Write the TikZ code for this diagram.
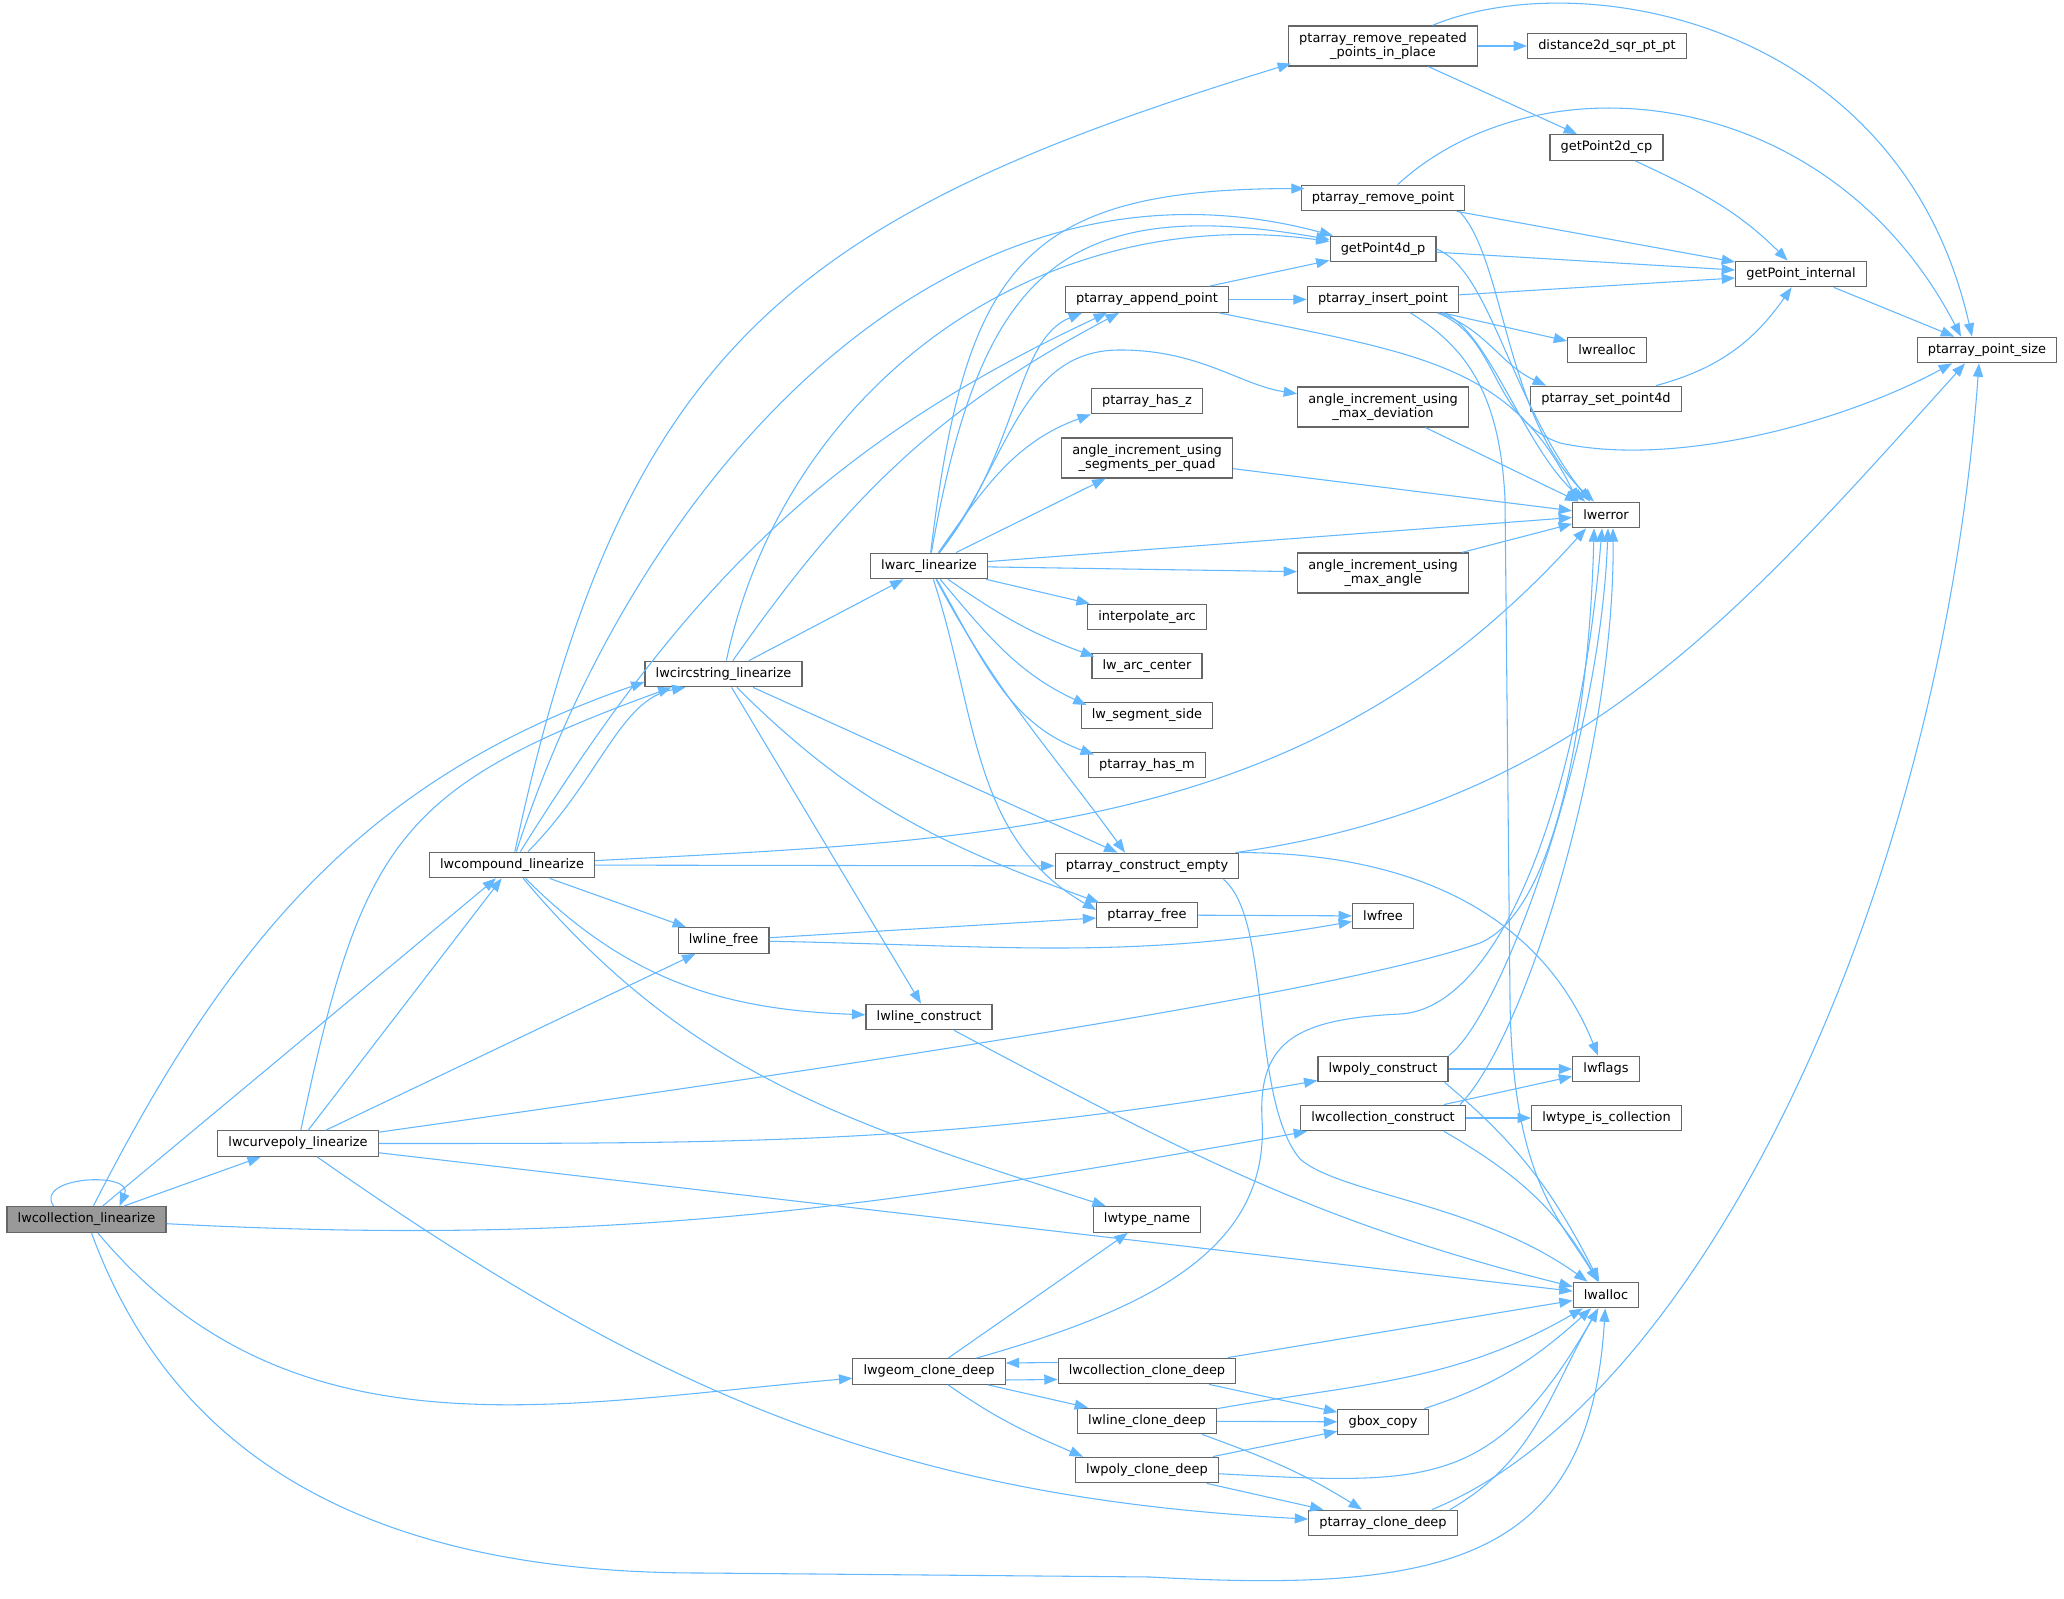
\documentclass[tikz,border=0pt]{standalone}
\usepackage{fontspec}
\setmainfont{DejaVu Sans}
\usetikzlibrary{arrows.meta}
\definecolor{edgeblue}{HTML}{63B8FF}
\definecolor{boxgrey}{HTML}{666666}
\definecolor{rootgrey}{HTML}{999999}
\newcommand{\graphfont}{\fontsize{9.7}{10.75}\selectfont}
\begin{document}
\begin{tikzpicture}[x=0.75pt, y=0.75pt,
    fn/.style={draw=boxgrey, fill=white, line width=0.9pt, inner xsep=8pt, inner ysep=0pt, minimum height=19.2pt, font=\graphfont},
    fn2/.style={fn, align=center, minimum height=30pt},
    root/.style={fn, fill=rootgrey},
    call/.style={draw=edgeblue, line width=0.8pt, -{Triangle[length=10pt,width=7.5pt]}}]
    \useasboundingbox (0,0) rectangle (2064,1599);
    \fill[white] (0,0) rectangle (2064,1599);
    % functions, one column per call depth
    \node[root] (collin) at (86.5,379.5) {lwcollection\_linearize};
    \node[fn] (curvepoly) at (298,455.5) {lwcurvepoly\_linearize};
    \node[fn] (compound) at (512,734) {lwcompound\_linearize};
    \node[fn] (circstring) at (723.5,925) {lwcircstring\_linearize};
    \node[fn] (linefree) at (723.5,658.5) {lwline\_free};
    \node[fn] (lwarc) at (929,1033) {lwarc\_linearize};
    \node[fn] (lineconstruct) at (929,582) {lwline\_construct};
    \node[fn] (geomclone) at (929,227.5) {lwgeom\_clone\_deep};
    \node[fn] (appendpt) at (1147,1299.5) {ptarray\_append\_point};
    \node[fn] (hasz) at (1147,1198) {ptarray\_has\_z};
    \node[fn2] (segquad) at (1147,1141) {angle\_increment\_using\\\_segments\_per\_quad};
    \node[fn] (interp) at (1147,982) {interpolate\_arc};
    \node[fn] (arccenter) at (1147,933) {lw\_arc\_center};
    \node[fn] (segside) at (1147,883.5) {lw\_segment\_side};
    \node[fn] (hasm) at (1147,834) {ptarray\_has\_m};
    \node[fn] (ptconsempty) at (1147,733) {ptarray\_construct\_empty};
    \node[fn] (ptfree) at (1147,684) {ptarray\_free};
    \node[fn] (typename) at (1147,379.5) {lwtype\_name};
    \node[fn] (collclone) at (1147,228) {lwcollection\_clone\_deep};
    \node[fn] (lineclone) at (1147,178) {lwline\_clone\_deep};
    \node[fn] (polyclone) at (1147,129) {lwpoly\_clone\_deep};
    \node[fn2] (ptremoverep) at (1383,1553) {ptarray\_remove\_repeated\\\_points\_in\_place};
    \node[fn] (ptremovept) at (1383,1401) {ptarray\_remove\_point};
    \node[fn] (getpt4d) at (1383,1350) {getPoint4d\_p};
    \node[fn] (ptinsert) at (1383,1299.5) {ptarray\_insert\_point};
    \node[fn2] (maxdev) at (1383,1192) {angle\_increment\_using\\\_max\_deviation};
    \node[fn2] (maxangle) at (1383,1026) {angle\_increment\_using\\\_max\_angle};
    \node[fn] (lwfree) at (1383,683) {lwfree};
    \node[fn] (polyconstruct) at (1383,530) {lwpoly\_construct};
    \node[fn] (collconstruct) at (1383,481) {lwcollection\_construct};
    \node[fn] (gboxcopy) at (1383,177) {gbox\_copy};
    \node[fn] (ptarrayclone) at (1383,76) {ptarray\_clone\_deep};
    \node[fn] (distance) at (1607,1553) {distance2d\_sqr\_pt\_pt};
    \node[fn] (getpt2d) at (1606.5,1451.5) {getPoint2d\_cp};
    \node[fn] (lwrealloc) at (1607,1249) {lwrealloc};
    \node[fn] (setpt4d) at (1606,1200) {ptarray\_set\_point4d};
    \node[fn] (lwerror) at (1606,1084) {lwerror};
    \node[fn] (lwflags) at (1606,530) {lwflags};
    \node[fn] (typecoll) at (1606.5,481) {lwtype\_is\_collection};
    \node[fn] (lwalloc) at (1606,304) {lwalloc};
    \node[fn] (getptint) at (1801,1325) {getPoint\_internal};
    \node[fn] (ptptsize) at (1987,1249) {ptarray\_point\_size};
    % lwcollection_linearize
    \draw[call] ([shift={(-33,0)}]collin.north) .. controls +(-20,30) and +(15,35) .. ([shift={(33,0)}]collin.north);
    \draw[call] (collin) -- (curvepoly);
    \draw[call] (collin) -- (compound);
    \draw[call] (collin) to[out=63,in=199] ([shift={(0,-8)}]circstring.west);
    \draw[call] (collin) to[out=-3,in=190] (collconstruct);
    \draw[call] (collin) to[out=-50,in=185] (geomclone);
    \draw[call] (collin) .. controls (160,180) and (320,26) .. (700,26) -- (1150,22) .. controls (1450,5) and (1590,40) .. (lwalloc);
    % lwcurvepoly_linearize
    \draw[call] (curvepoly) to[out=78,in=200,looseness=1.3] ([shift={(-52,0)}]circstring.south);
    \draw[call] (curvepoly) -- (compound);
    \draw[call] (curvepoly) -- (linefree);
    \draw[call] (curvepoly) .. controls (900,540) and (1350,610) .. (1480,656) .. controls (1560,690) and (1590,900) .. ([shift={(-12,0)}]lwerror.south);
    \draw[call] (curvepoly) to[out=0,in=190] (polyconstruct);
    \draw[call] (curvepoly) -- (lwalloc);
    \draw[call] (curvepoly) to[out=-35,in=177] (ptarrayclone);
    % lwcompound_linearize
    \draw[call] ([shift={(16,0)}]compound.north) .. controls (600,820) and (620,900) .. ([shift={(-38,0)}]circstring.south);
    \draw[call] (compound) to[out=78,in=197,looseness=1.2] ([shift={(3,3)}]ptremoverep.south west);
    \draw[call] (compound) to[out=72,in=165] (getpt4d);
    \draw[call] (compound) to[out=58,in=205] ([shift={(-40,0)}]appendpt.south);
    \draw[call] (compound) to[out=3,in=228] ([shift={(-20,0)}]lwerror.south);
    \draw[call] (compound) -- (ptconsempty);
    \draw[call] (compound) -- (linefree);
    \draw[call] (compound) to[out=-45,in=178] (lineconstruct);
    \draw[call] (compound) to[out=-50,in=162] (typename);
    % lwcircstring_linearize
    \draw[call] (circstring) to[out=78,in=172] (getpt4d);
    \draw[call] (circstring) to[out=55,in=208] ([shift={(-28,0)}]appendpt.south);
    \draw[call] (circstring) -- (lwarc);
    \draw[call] (circstring) -- (ptconsempty);
    \draw[call] (circstring) to[out=-45,in=160] ([shift={(3,-1)}]ptfree.north west);
    \draw[call] (circstring) -- (lineconstruct);
    % lwarc_linearize
    \draw[call] (lwarc) to[out=83,in=180,looseness=1.4] ([shift={(4,-4)}]ptremovept.north west);
    \draw[call] (lwarc) to[out=80,in=170,looseness=1.4] (getpt4d);
    \draw[call] (lwarc) .. controls (1020,1149) and (1015,1259) .. ([shift={(-65,0)}]appendpt.south);
    \draw[call] (lwarc) .. controls (1010,1139) and (1020,1249) .. (1120,1249) .. controls (1200,1249) and (1240,1214) .. (maxdev);
    \draw[call] (lwarc) to[out=55,in=200] (hasz.south west);
    \draw[call] (lwarc) -- (segquad);
    \draw[call] (lwarc) -- (lwerror);
    \draw[call] (lwarc) -- (maxangle);
    \draw[call] (lwarc) -- (interp);
    \draw[call] (lwarc) to[out=-35,in=160] ([shift={(3,-4)}]arccenter.north west);
    \draw[call] (lwarc) to[out=-50,in=155] ([shift={(6,-3)}]segside.north west);
    \draw[call] (lwarc) to[out=-60,in=160] ([shift={(6,-3)}]hasm.north west);
    \draw[call] (lwarc) to[out=-62,in=126] ([shift={(-22,0)}]ptconsempty.north);
    \draw[call] (lwarc) to[out=-72,in=150] ([shift={(0,5)}]ptfree.west);
    % point array helpers
    \draw[call] (ptremoverep) -- (distance);
    \draw[call] (ptremoverep) -- (getpt2d);
    \draw[call] (ptremoverep) .. controls (1580,1635) and (1900,1580) .. ([shift={(-15,0)}]ptptsize.north);
    \draw[call] (getpt2d) to[out=-25,in=135] (getptint);
    \draw[call] (ptremovept) .. controls (1540,1545) and (1830,1515) .. ([shift={(-26,0)}]ptptsize.north);
    \draw[call] (ptremovept) -- (getptint);
    \draw[call] ([shift={(-6,0)}]ptremovept.south east) .. controls (1505,1340) and (1505,1180) .. ([shift={(22,0)}]lwerror.north west);
    \draw[call] (getpt4d) -- (getptint);
    \draw[call] (getpt4d.east) .. controls (1490,1329) and (1510,1199) .. ([shift={(18,0)}]lwerror.north west);
    \draw[call] (ptinsert) -- (getptint);
    \draw[call] (ptinsert) -- (lwrealloc);
    \draw[call] ([shift={(-20,0)}]ptinsert.south east) to[out=-20,in=155] ([shift={(16,0)}]setpt4d.north west);
    \draw[call] ([shift={(-15,0)}]ptinsert.south east) .. controls (1490,1265) and (1525,1150) .. ([shift={(13,0)}]lwerror.north west);
    \draw[call] ([shift={(-22,0)}]ptinsert.south east) .. controls (1500,1262) and (1490,1180) .. (1560,1156) .. controls (1680,1130) and (1850,1180) .. ([shift={(-35,0)}]ptptsize.south);
    \draw[call] ([shift={(-49,0)}]ptinsert.south east) .. controls (1470,1250) and (1500,1200) .. (1505,1100) -- (1510,600) .. controls (1512,420) and (1560,380) .. (lwalloc);
    \draw[call] (appendpt) -- (getpt4d);
    \draw[call] (appendpt) -- (ptinsert);
    \draw[call] ([shift={(-10,0)}]appendpt.south east) .. controls (1420,1245) and (1510,1235) .. ([shift={(6,0)}]lwerror.north west);
    \draw[call] (setpt4d) to[out=15,in=235] (getptint);
    \draw[call] (getptint) -- (ptptsize);
    % angle increments
    \draw[call] (maxdev) -- (lwerror);
    \draw[call] (segquad) -- (lwerror);
    \draw[call] (maxangle) -- (lwerror);
    % construction and freeing
    \draw[call] ([shift={(-4,0)}]ptconsempty.north east) to[out=8,in=228] ([shift={(-22,0)}]ptptsize.south);
    \draw[call] (ptconsempty.north east) to[out=0,in=112] ([shift={(-8,0)}]lwflags.north);
    \draw[call] ([shift={(-16,0)}]ptconsempty.south east) .. controls (1272,680) and (1250,500) .. (1300,440) .. controls (1340,405) and (1480,395) .. (lwalloc);
    \draw[call] (ptfree) -- (lwfree);
    \draw[call] (linefree) -- (ptfree);
    \draw[call] (linefree) to[out=-1,in=190] (lwfree);
    \draw[call] (lineconstruct) to[out=-28,in=166] (lwalloc);
    \draw[call] (polyconstruct) -- (lwflags);
    \draw[call] (polyconstruct.north east) .. controls (1500,580) and (1600,850) .. ([shift={(2,0)}]lwerror.south);
    \draw[call] ([shift={(-4,0)}]polyconstruct.south east) to[out=-40,in=117] (lwalloc);
    \draw[call] (collconstruct) -- (lwflags);
    \draw[call] (collconstruct) -- (typecoll);
    \draw[call] ([shift={(-6,0)}]collconstruct.north east) .. controls (1525,560) and (1615,850) .. ([shift={(7,0)}]lwerror.south);
    \draw[call] ([shift={(-22,0)}]collconstruct.south east) to[out=-30,in=120] (lwalloc);
    % cloning
    \draw[call] (geomclone) -- (typename);
    \draw[call] (geomclone) .. controls (1150,290) and (1270,350) .. (1262,480) .. controls (1258,560) and (1300,580) .. (1400,585) .. controls (1500,590) and (1580,800) .. ([shift={(-4,0)}]lwerror.south);
    \draw[call] ([shift={(0,-8.5)}]geomclone.east) -- ([shift={(0,-8.5)}]collclone.west);
    \draw[call] ([shift={(0,8.5)}]collclone.west) -- ([shift={(0,8.5)}]geomclone.east);
    \draw[call] (geomclone) -- (lineclone);
    \draw[call] (geomclone) to[out=-35,in=157] ([shift={(8,0)}]polyclone.north west);
    \draw[call] (collclone) -- (lwalloc);
    \draw[call] (collclone) -- (gboxcopy);
    \draw[call] (lineclone) -- (gboxcopy);
    \draw[call] (lineclone) to[out=10,in=210] (lwalloc);
    \draw[call] ([shift={(-15,0)}]lineclone.south east) to[out=-20,in=148] ([shift={(-21,0)}]ptarrayclone.north);
    \draw[call] (polyclone) -- (gboxcopy);
    \draw[call] (polyclone) to[out=-3,in=240,looseness=1.3] (lwalloc);
    \draw[call] (polyclone) -- (ptarrayclone);
    \draw[call] (gboxcopy) to[out=18,in=222] (lwalloc);
    \draw[call] ([shift={(-8,0)}]ptarrayclone.north east) to[out=30,in=240] (lwalloc);
    \draw[call] ([shift={(-26,0)}]ptarrayclone.north east) .. controls (1700,199) and (1940,699) .. ([shift={(-8,0)}]ptptsize.south);
\end{tikzpicture}
\end{document}
